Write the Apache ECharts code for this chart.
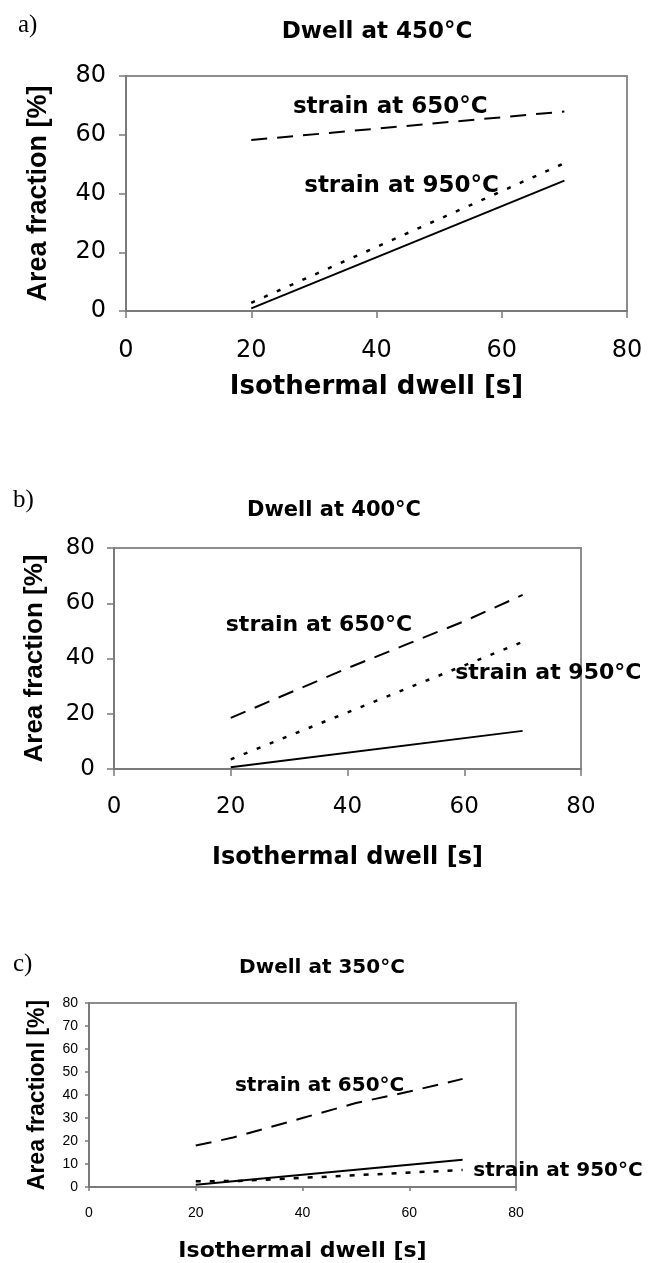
<!DOCTYPE html>
<html>
<head>
<meta charset="utf-8">
<script src="https://cdn.jsdelivr.net/npm/echarts@6/dist/echarts.min.js"></script>
<style>
html, body { margin: 0; padding: 0; background: #fff; }
#chart { width: 657px; height: 1263px; }
</style>
</head>
<body>
<div id="chart"></div>
<script>
// a) dwell at 450°C
var dwellA = [20, 70];
var a650 = [58.2, 67.9];
var aDot = [2.8, 50.3];
var a950 = [0.9, 44.4];

// b) dwell at 400°C
var dwellB = [20, 30, 40, 50, 60, 70];
var b650 = [18.5, 27.5, 36.5, 45, 53.5, 63];
var dwellB2 = [20, 70];
var bDot = [3.5, 46];
var b950 = [0.6, 13.8];

// c) dwell at 350°C
var dwellC = [20, 27, 40, 50, 60, 70];
var c650 = [18, 21.5, 30, 36.5, 41.5, 47];
var dwellC2 = [20, 28, 70];
var cDot = [2.5, 2.6, 7.4];
var dwellC3 = [20, 70];
var c950 = [1.0, 11.8];

var panels = ['a)', 'b)', 'c)'];
var titles = ['Dwell at 450°C', 'Dwell at 400°C', 'Dwell at 350°C'];
var xName = 'Isothermal dwell [s]';
var yNames = ['Area fraction [%]', 'Area fraction [%]', 'Area fractionl [%]'];
var lbl650 = 'strain at 650°C';
var lbl950 = 'strain at 950°C';

function pairs(xs, ys) {
    return xs.map(function(x, i) { return [x, ys[i]]; });
}

var chart = echarts.init(document.getElementById('chart'), null, { renderer: 'canvas' });

var axisGray = '#7a7a7a';

function xAxis(i, size, margin, nameSize, gap) {
    return {
        gridIndex: i, type: 'value', min: 0, max: 80, interval: 20,
        name: xName, nameLocation: 'middle', nameGap: gap,
        nameTextStyle: { fontFamily: 'DejaVu Sans', fontWeight: 'bold', fontSize: nameSize, color: '#000' },
        axisLine: { lineStyle: { color: axisGray, width: 2 } },
        axisTick: { show: true, length: i == 2 ? 4 : 7, lineStyle: { color: axisGray, width: 1.5 } },
        axisLabel: { margin: margin, fontFamily: i == 2 ? 'Liberation Sans' : 'DejaVu Sans', fontSize: size, color: '#000' },
        splitLine: { show: false }
    };
}

function yAxis(i, step, size, margin, nameSize, gap) {
    return {
        gridIndex: i, type: 'value', min: 0, max: 80, interval: step,
        name: yNames[i], nameLocation: 'middle', nameGap: gap, nameRotate: 90,
        nameTextStyle: { fontFamily: 'Liberation Sans', fontWeight: 'bold', fontSize: nameSize, color: '#000' },
        axisLine: { show: true, lineStyle: { color: axisGray, width: 2 } },
        axisTick: { show: true, length: i == 2 ? 4 : 7, lineStyle: { color: axisGray, width: 1.5 } },
        axisLabel: { margin: margin, fontFamily: i == 2 ? 'Liberation Sans' : 'DejaVu Sans', fontSize: size, color: '#000' },
        splitLine: { show: false }
    };
}

// text label pinned to a data coordinate (offset pushes it past the plot edge)
function note(text, coord, size, offset) {
    return {
        symbol: 'rect', symbolSize: 1, silent: true,
        itemStyle: { color: 'rgba(0,0,0,0)' },
        label: {
            show: true, position: 'inside', formatter: text, offset: offset || [0, 0],
            fontFamily: 'DejaVu Sans', fontWeight: 'bold', fontSize: size, color: '#000'
        },
        data: [{ coord: coord }]
    };
}

function line(i, data, type, width, mark) {
    var s = {
        type: 'line', xAxisIndex: i, yAxisIndex: i, data: data,
        symbol: 'none', silent: true,
        lineStyle: { color: '#000', width: width, type: type }
    };
    if (mark) s.markPoint = mark;
    return s;
}

var dash = [16, 10];
var dot = [4, 10];

var option = {
    animation: false,
    backgroundColor: '#fff',
    title: [
        { text: panels[0], left: 13, top: 8, textStyle: { fontFamily: 'Liberation Serif', fontWeight: 'normal', fontSize: 25, color: '#000' } },
        { text: panels[1], left: 8, top: 483, textStyle: { fontFamily: 'Liberation Serif', fontWeight: 'normal', fontSize: 25, color: '#000' } },
        { text: panels[2], left: 8, top: 947, textStyle: { fontFamily: 'Liberation Serif', fontWeight: 'normal', fontSize: 25, color: '#000' } },
        { text: titles[0], left: 372, top: 16, textAlign: 'center', textStyle: { fontFamily: 'DejaVu Sans', fontWeight: 'bold', fontSize: 23, color: '#000' } },
        { text: titles[1], left: 329, top: 495, textAlign: 'center', textStyle: { fontFamily: 'DejaVu Sans', fontWeight: 'bold', fontSize: 21, color: '#000' } },
        { text: titles[2], left: 317, top: 953, textAlign: 'center', textStyle: { fontFamily: 'DejaVu Sans', fontWeight: 'bold', fontSize: 20, color: '#000' } }
    ],
    grid: [
        { left: 126, top: 76, width: 501, height: 235, show: true, borderColor: '#8c8c8c', borderWidth: 2 },
        { left: 114, top: 548, width: 467, height: 221, show: true, borderColor: '#8c8c8c', borderWidth: 2 },
        { left: 89, top: 1003, width: 427, height: 185, show: true, borderColor: '#8c8c8c', borderWidth: 2 }
    ],
    xAxis: [
        xAxis(0, 24, 28, 26, 63),
        xAxis(1, 23, 27, 24, 77),
        xAxis(2, 14, 19, 22, 53)
    ],
    yAxis: [
        yAxis(0, 20, 24, 20, 27, 74),
        yAxis(1, 20, 23, 19, 26, 66),
        yAxis(2, 10, 14, 11, 23, 40)
    ],
    series: [
        line(0, pairs(dwellA, a650), dash, 2, note(lbl650, [42.2, 69.5], 23)),
        line(0, pairs(dwellA, aDot), dot, 2.5, note(lbl950, [44, 42.6], 23)),
        line(0, pairs(dwellA, a950), 'solid', 2),

        line(1, pairs(dwellB, b650), dash, 2, note(lbl650, [35.1, 52.1], 22)),
        line(1, pairs(dwellB2, bDot), dot, 2.5, note(lbl950, [74.4, 34.6], 22)),
        line(1, pairs(dwellB2, b950), 'solid', 2),

        line(2, pairs(dwellC, c650), dash, 2, note(lbl650, [43.2, 43.8], 20)),
        line(2, pairs(dwellC2, cDot), [5, 9], 2.5, note(lbl950, [80, 7], 20, [42, 0])),
        line(2, pairs(dwellC3, c950), 'solid', 2)
    ]
};

chart.setOption(option);
</script>
</body>
</html>
